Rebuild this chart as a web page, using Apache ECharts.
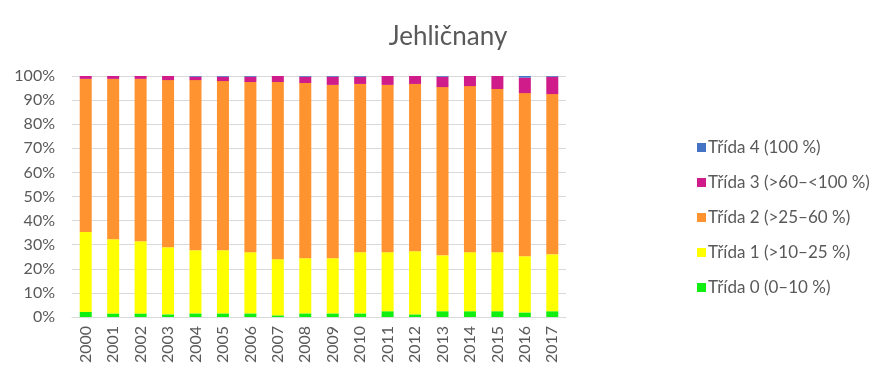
<!DOCTYPE html>
<html><head><meta charset="utf-8">
<script src="https://cdn.jsdelivr.net/npm/echarts@6/dist/echarts.min.js"></script>
<style>html,body{margin:0;padding:0;background:#fff}#c{width:890px;height:380px}</style>
</head><body><div id="c"></div>
<script>
const years = ['2000','2001','2002','2003','2004','2005','2006','2007','2008','2009','2010','2011','2012','2013','2014','2015','2016','2017'];
const trida0 = [2.1,1.5,1.5,1.1,1.5,1.5,1.5,0.7,1.5,1.5,1.5,2.4,1.1,2.4,2.4,2.4,1.9,2.4];
const trida1 = [33.2,30.8,29.9,27.8,26.2,26.2,25.4,23.3,22.9,22.9,25.4,24.5,26.2,23.2,24.5,24.5,23.3,23.6];
const trida2 = [63.5,66.5,67.4,69.4,70.6,70.2,70.6,73.5,72.7,71.9,69.8,69.4,69.4,69.8,68.9,67.7,67.7,66.5];
const trida3 = [1.2,1.2,1.2,1.7,1.4,1.8,2.2,2.5,2.6,3.4,3.0,3.7,3.3,4.3,4.2,5.4,6.4,7.2];
const trida4 = [0,0,0,0,0.3,0.3,0.3,0,0.3,0.3,0.3,0,0,0.3,0,0,0.7,0.3];
const names = ['Třída 0 (0–10 %)','Třída 1 (>10–25 %)','Třída 2 (>25–60 %)','Třída 3 (>60–<100 %)','Třída 4 (100 %)'];
const colors = ['#11EE11','#FFFF00','#FF9330','#D01C8B','#4472C4'];
const allData = [trida0,trida1,trida2,trida3,trida4];
const font = 'Lato, "Open Sans", sans-serif';
const txt = '#595959';
const chart = echarts.init(document.getElementById('c'));
chart.setOption({
  animation:false,
  textStyle:{fontFamily:font},
  title:{text:'Jehličnany',left:443,textAlign:'center',top:19,textStyle:{fontFamily:font,fontSize:26,fontWeight:'normal',color:txt}},
  grid:{left:72,right:324,top:76,bottom:63,containLabel:false},
  legend:{orient:'vertical',left:692,top:134,itemWidth:9,itemHeight:9,itemGap:18,icon:'rect',
    data:names.slice().reverse(),textStyle:{fontFamily:font,fontSize:17,lineHeight:14,color:txt,padding:[0,0,0,-3]}},
  xAxis:{type:'category',data:years,axisTick:{show:false},axisLine:{lineStyle:{color:'#d9d9d9'}},
    axisLabel:{rotate:90,fontSize:16,color:txt,margin:9,fontFamily:font}},
  yAxis:{type:'value',min:0,max:100,interval:10,axisLine:{show:false},axisTick:{show:false},
    splitLine:{lineStyle:{color:'#d9d9d9'}},
    axisLabel:{formatter:v=>v+'%',fontSize:16,color:txt,margin:17,fontFamily:font}},
  series: allData.map((d,i)=>({name:names[i],type:'bar',stack:'s',data:d,barWidth:12,
    itemStyle:{color:colors[i]}}))
});
</script></body></html>
